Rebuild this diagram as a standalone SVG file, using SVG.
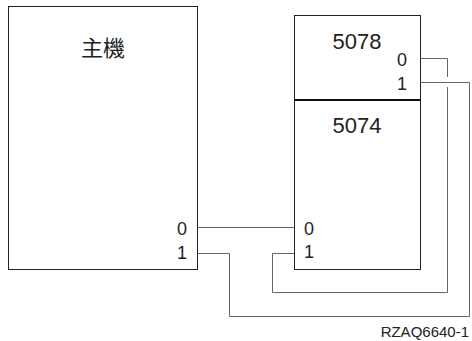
<svg xmlns="http://www.w3.org/2000/svg" width="472" height="341" viewBox="0 0 472 341">
<style>
.box{fill:#fff;stroke:#222;stroke-width:1}
.div{stroke:#111;stroke-width:2}
.c{fill:none;stroke:#666;stroke-width:1}
text{font-family:"Liberation Sans",Arial,"Noto Sans CJK TC",sans-serif;fill:#222}
.t{font-size:22px;text-anchor:middle}
.p{font-size:18px;text-anchor:end}
.ps{font-size:18px;text-anchor:start}
</style>
<rect width="472" height="341" fill="#fff"/>
<g id="host">
<rect class="box" x="8.5" y="6.5" width="189" height="263"/>
<text class="t" x="103" y="56">主機</text>
<text class="p" x="187" y="235">0</text>
<text class="p" x="187" y="259">1</text>
</g>
<g id="unit">
<rect class="box" x="294.5" y="15.5" width="126" height="254"/>
<line class="div" x1="294.5" y1="100" x2="420.5" y2="100"/>
<text class="t" x="357" y="49">5078</text>
<text class="p" x="407" y="66">0</text>
<text class="p" x="407" y="90">1</text>
<text class="t" x="357" y="133">5074</text>
<text class="ps" x="304" y="235">0</text>
<text class="ps" x="304" y="258">1</text>
</g>
<g id="connectors">
<path class="c" d="M197.5 227.5H294.5"/>
<path class="c" d="M197.5 253.5H229.5V316.5H469.5V82.5H420.5"/>
<path class="c" d="M420.5 58.5H447.5V77M447.5 87V292.5H272.5V253.5H294.5"/>
</g>
<text x="469" y="337" style="font-size:15px;text-anchor:end">RZAQ6640-1</text>
</svg>
